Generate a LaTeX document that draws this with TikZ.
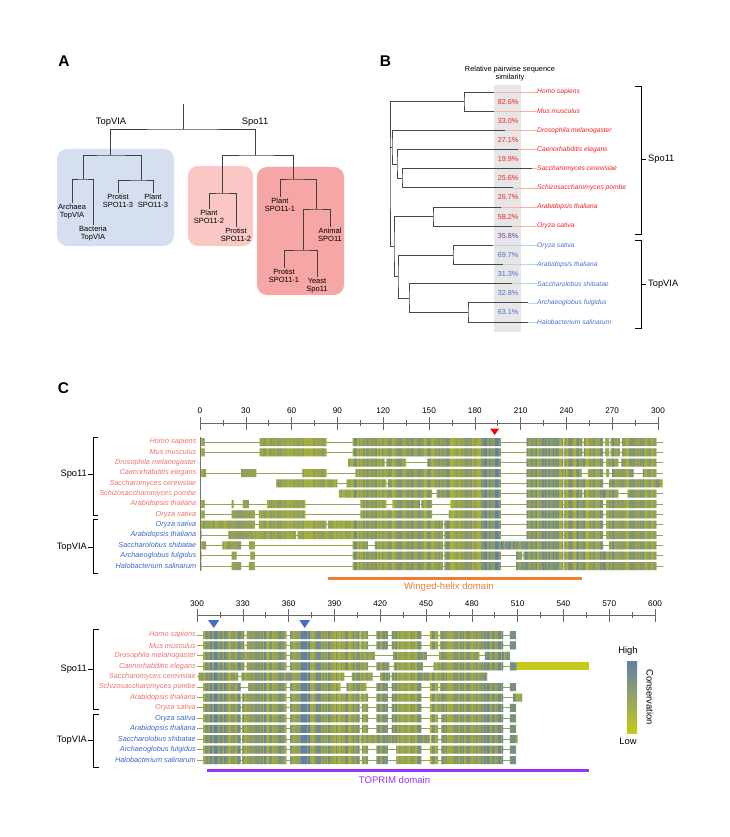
\documentclass[tikz,border=0pt]{standalone}
\usepackage{fontspec}
\setmainfont{Liberation Sans}
\usetikzlibrary{positioning}

\definecolor{boxblue}{RGB}{214,223,240}
\definecolor{boxpink}{RGB}{250,199,196}
\definecolor{boxred}{RGB}{247,166,166}
\definecolor{colgray}{RGB}{230,230,230}
\definecolor{bred}{RGB}{250,30,30}
\definecolor{bblue}{RGB}{72,112,210}
\definecolor{bpurple}{RGB}{120,60,170}
\definecolor{cred}{RGB}{242,110,110}
\definecolor{cblue}{RGB}{60,100,205}
\definecolor{alnlow}{RGB}{172,178,50}
\definecolor{alnhigh}{RGB}{96,128,170}
\definecolor{alnyel}{RGB}{198,200,28}
\definecolor{gapcol}{RGB}{150,165,85}
\definecolor{whorange}{RGB}{240,125,50}
\definecolor{tppurple}{RGB}{155,50,250}
\definecolor{tricol}{RGB}{70,110,200}

% alignment blocks: row y / line start / line end / {block start/end,...}
\newcommand\toprows{%
442/0/303/{0/3,39/83,100/197,214/238,238.5/250.5,251.5/264,265.5/268,269/275,276.5/299},%
452.33/0/303/{0/3,39/83,100/197,214/238,238.5/250.5,251.5/264,265.5/268,269/275,276.5/299},%
462.67/97/303/{97/121,122/135,149/197,214/238,238.5/264,266/274,276/299},%
473/0/303/{0/4,27/37,67/83,102/197,214/250,254/264,266/268,270/284,290/299},%
483.33/50/303/{50/90,96/122,123/197,214/238,238.5/264,268/303},%
493.67/91/303/{91/152,155/197,214/238,238.5/250.5,251.5/274,280/299},%
504/0/303/{0/3,20.7/22,28/32,44/69,105/122,126/144,145/152,164/197,214/238,238.5/264,266/299},%
514.33/0/303/{0/3,20.7/36,38.5/69,105/152,163/197,214/238,238.5/264,266/299},%
524.67/0/303/{0.8/36,38.5/83,84/159,160/197,214/238,238.5/264,266/299},%
535/0/303/{0/1,18.6/63,64/159,160/197,214/238,238.5/264,266/299},%
545.33/0/303/{0/4,14.6/27,32/36,100/110,114.5/159,160/238,238.5/264,268/299},%
555.67/0/303/{0/1,20.7/24,33/36,100/159,160/197,207/211,212/238,238.5/299},%
566/0/303/{0/1,20.7/27,32/36,100/159,160/197,207/238,238.5/299}}
\newcommand\botrows{%
635/300/509/{304/331,332.5/358.5,361/406.5,407/412,417.5/425,427.5/447,452.5/458,459/500.5,505/509},%
645.42/300/509/{304/331,332.5/358.5,361/406.5,407/412,417.5/425,427.5/447,452.5/458,459/500.5,505/509},%
655.83/300/505/{304/358.5,361/416.5,428.5/450.5,458.5/485,488.5/505},%
666.25/300/509/{304/331,332.5/358.5,361/412,417.5/426,429/448,455/500.5,505/509.5},%
676.67/300/490/{301/327,329/396.5,401.5/415,420/426.5,427.5/490},%
687.08/300/509/{304/328.5,333.5/358.5,361/394,398/411,417.5/425,427.5/447,452.5/458,459/500.5,505/509},%
697.5/300/513/{304/328.5,329.5/358.5,361/406.5,407/412,417.5/425,427.5/447,452.5/500.5,507/513},%
707.92/300/509/{304/328.5,329.5/358.5,361/406.5,408/412,417.5/425,427.5/447,452.5/500.5,505/509},%
718.33/300/509/{304/328.5,329.5/358.5,361/406.5,408/412,417.5/425,427.5/447,452.5/458,460/500.5,505/509},%
728.75/300/509/{304/328.5,329.5/358.5,361/406.5,408/412,417.5/425,427.5/447,452.5/458,460/500.5,505/509},%
739.17/300/510/{304/328.5,329.5/358.5,361/406.5,407/452.5,453/458,460/500.5,505/510},%
749.58/300/509/{304/328.5,329.5/358.5,361/406.5,408/412,417.5/425,430.5/447,452.5/458,460/500.5,505/509},%
760/300/509/{304/328.5,329.5/358.5,361/406.5,408/412,417.5/425,430.5/447,452.5/458,460/500.5,505/509}}

\begin{document}
\begin{tikzpicture}[x=1pt, y=-1pt,
  panel/.style={font=\fontsize{15.5}{16}\bfseries\selectfont, inner sep=0pt},
  treeA/.style={draw=black!75, line width=0.6pt},
  leafA/.style={font=\fontsize{7.5}{8.2}\selectfont, align=center, inner sep=1pt, anchor=north},
  hdrA/.style={font=\fontsize{9.4}{10}\selectfont, inner sep=0pt},
  treeB/.style={draw=black!72, line width=0.7pt},
  spB/.style={font=\fontsize{6.7}{7}\itshape, anchor=west, inner sep=0pt},
  pct/.style={font=\fontsize{7.2}{8}\selectfont, inner sep=0pt},
  brk/.style={draw=black, line width=0.7pt},
  brkl/.style={font=\fontsize{9.3}{10}\selectfont, inner sep=0pt},
  rowlbl/.style={font=\fontsize{7.3}{8}\itshape, anchor=east, inner sep=0pt},
  rul/.style={draw=black!60, line width=0.6pt},
  num/.style={font=\fontsize{8.2}{9}\selectfont, inner sep=0pt},
  gapln/.style={draw=gapcol, line width=0.9pt},
  lgd/.style={font=\fontsize{9.4}{10}\selectfont, inner sep=0pt}]
\useasboundingbox (0,0) rectangle (730,837);

%%% panel A
\node[panel] (labA) at (64,61.5) {A};
\fill[boxblue, rounded corners=10pt] (57,149) rectangle (174,246);
\fill[boxpink, rounded corners=10pt] (188,166) rectangle (253,246);
\fill[boxred, rounded corners=10pt] (257,167) rectangle (344,295);

\node[hdrA] (hTopA) at (111,122) {TopVIA};
\node[hdrA] (hSpoA) at (255,122) {Spo11};
\coordinate (rA) at (183,104);
\coordinate (jA) at (183,129);
\coordinate (tvA) at (110,155);
\coordinate (spA) at (255,155);
\draw[treeA] (rA) -- (jA);
\draw[treeA] (tvA) |- (jA) -| (spA);

\coordinate (abA) at (83,179);
\coordinate (p3A) at (141,180);
\draw[treeA] (abA) |- (tvA) -| (p3A);
\node[leafA] (archA) at (72,203) {Archaea\\TopVIA};
\node[leafA] (bactA) at (93,225) {Bacteria\\TopVIA};
\draw[treeA] (archA) |- (abA) -| (bactA);
\node[leafA] (prot3A) at (118,193) {Protist\\SPO11-3};
\node[leafA] (plant3A) at (153,193) {Plant\\SPO11-3};
\draw[treeA] (prot3A) |- (p3A) -| (plant3A);

\coordinate (s2A) at (222,193);
\coordinate (s1A) at (293,179);
\draw[treeA] (s2A) |- (spA) -| (s1A);
\node[leafA] (plant2A) at (209,209) {Plant\\SPO11-2};
\node[leafA] (prot2A) at (236,227) {Protist\\SPO11-2};
\draw[treeA] (plant2A) |- (s2A) -| (prot2A);
\node[leafA] (plant1A) at (280,197) {Plant\\SPO11-1};
\coordinate (s1bA) at (316,209);
\draw[treeA] (plant1A) |- (s1A) -| (s1bA);
\coordinate (s1cA) at (303,250);
\node[leafA] (animA) at (330,227) {Animal\\SPO11};
\draw[treeA] (s1cA) |- (s1bA) -| (animA);
\node[leafA] (prot1A) at (284,268) {Protist\\SPO11-1};
\node[leafA] (yeastA) at (317,277) {Yeast\\Spo11};
\draw[treeA] (prot1A) |- (s1cA) -| (yeastA);

%%% panel B
\node[panel] (labB) at (385.5,61.5) {B};
\fill[colgray] (494,85) rectangle (521,332);
\node[font=\fontsize{7.4}{8}\selectfont, align=center, inner sep=0pt] (hdrB) at (510,74) {Relative pairwise sequence\\similarity};

\foreach \nm/\yy/\tip [count=\i] in {Homo sapiens/92/494, Mus musculus/111.2/494,
  Drosophila melanogaster/130.3/505, Caenorhabditis elegans/149.5/518,
  Saccharomyces cerevisiae/168.7/532, Schizosaccharomyces pombe/187.8/513,
  Arabidopsis thaliana/207/501, Oryza sativa/226.2/512, Oryza sativa/245.3/493,
  Arabidopsis thaliana/264.5/503, Saccharolobus shibatae/283.7/512,
  Archaeoglobus fulgidus/302.8/528, Halobacterium salinarum/322/528}
{
  \ifnum\i<9 \def\cl{bred}\else\def\cl{bblue}\fi
  \node[spB, text=\cl] (b\i) at (537,\yy) {\nm};
  \coordinate (t\i) at (\tip,\yy);
  \draw[\cl!35, line width=0.5pt] (t\i) -- (b\i.west);
}

\coordinate (hmB) at (464,101.6);
\coordinate (sB) at (402,178.25);
\coordinate (cB) at (397,163.9);
\coordinate (dB) at (392,147.1);
\coordinate (plB) at (433,216.6);
\coordinate (taB) at (453,254.9);
\coordinate (ahB) at (468,312.4);
\coordinate (saB) at (409,298);
\coordinate (tvB) at (398,276.5);
\coordinate (ptB) at (394,246.5);
\coordinate (rootB) at (390,174);
\draw[treeB] (t1) -| (hmB) |- (t2);
\draw[treeB] (t5) -| (sB) |- (t6);
\draw[treeB] (t4) -| (cB) |- (sB);
\draw[treeB] (t3) -| (dB) |- (cB);
\draw[treeB] (t7) -| (plB) |- (t8);
\draw[treeB] (t9) -| (taB) |- (t10);
\draw[treeB] (t12) -| (ahB) |- (t13);
\draw[treeB] (t11) -| (saB) |- (ahB);
\draw[treeB] (taB) -| (tvB) |- (saB);
\draw[treeB] (plB) -| (ptB) |- (tvB);
\draw[treeB] (hmB) -| (rootB) |- (ptB);
\draw[treeB] (dB) -- (dB -| rootB);

\foreach \v/\yy/\cl [count=\i] in {82.6/101.6/bred, 33.0/120.75/bred, 27.1/139.9/bred,
  19.9/159.1/bred, 25.6/178.25/bred, 26.7/197.4/bred, 58.2/216.6/bred,
  35.8/235.75/bpurple, 69.7/254.9/bblue, 31.3/274.1/bblue, 32.8/293.25/bblue, 63.1/312.4/bblue}
  \node[pct, text=\cl] (pc\i) at (508,\yy) {\v\%};

\draw[brk] (635,86) -- (641,86) -- (641,234) -- (635,234);
\draw[brk] (641,159) -- (646,159);
\node[brkl, anchor=west] (spoB) at (648,159) {Spo11};
\draw[brk] (635,240) -- (641,240) -- (641,328) -- (635,328);
\draw[brk] (641,284) -- (646,284);
\node[brkl, anchor=west] (topB) at (648,284) {TopVIA};

%%% panel C
\node[panel] (labC) at (63.5,388.5) {C};

% residues 0-300
\begin{scope}[xshift=200pt, x=1.5267pt]
  \draw[rul] (0,423) -- (300,423);
  \foreach \u in {0,30,...,300} {
    \draw[rul] (\u,417) -- (\u,430);
    \node[num] (nt\u) at (\u,411) {\u};
  }
  \foreach \u in {15,45,...,285} \draw[rul] (\u,420) -- (\u,426);
  \foreach \yy/\la/\lb/\bl in \toprows \draw[gapln] (\la,\yy) -- (\lb,\yy);
  \begin{scope}
    \clip \foreach \yy/\la/\lb/\bl in \toprows {\foreach \a/\b in \bl {(\a,\yy-4) rectangle (\b,\yy+4)}};
    \fill[alnlow] (-1,430) rectangle (306,575);
    \pgfmathsetseed{3}
    \foreach \u in {0,...,304} {
      \pgfmathsetmacro\w{\u<100 ? 0.45 : (\u<186 ? 0.7 : (\u<198 ? 1.5 : 0.85))}
      \pgfmathsetmacro\op{min(1,\w*rnd)}
      \fill[alnhigh, fill opacity=\op] (\u,436) rectangle (\u+1,572);
    }
  \end{scope}
  \fill[red] (190,428.5) -- (196,428.5) -- (193,435) -- cycle;
  \draw[whorange, line width=3pt] (84,578) -- (250,578);
\end{scope}
\node[font=\fontsize{9.6}{10}\selectfont, text=whorange, inner sep=0pt] (whC) at (449,587.5) {Winged-helix domain};
\draw[black!55, line width=0.6pt] (200,437) -- (200,571);

\foreach \nm [count=\i] in {Homo sapiens, Mus musculus, Drosophila melanogaster,
  Caenorhabditis elegans, Saccharomyces cerevisiae, Schizosaccharomyces pombe,
  Arabidopsis thaliana, Oryza sativa, Oryza sativa, Arabidopsis thaliana,
  Saccharolobus shibatae, Archaeoglobus fulgidus, Halobacterium salinarum}
{
  \ifnum\i<9 \def\cl{cred}\else\def\cl{cblue}\fi
  \pgfmathsetmacro\yt{442+(\i-1)*10.333}
  \pgfmathsetmacro\yb{635+(\i-1)*10.417}
  \node[rowlbl, text=\cl] (rT\i) at (196.5,\yt) {\nm};
  \node[rowlbl, text=\cl] (rB\i) at (196,\yb) {\nm};
}

\draw[brk] (98,437) -- (93,437) -- (93,515) -- (98,515);
\draw[brk] (93,474) -- (88,474);
\node[brkl, anchor=east] (spoT) at (87,474) {Spo11};
\draw[brk] (98,519) -- (93,519) -- (93,573) -- (98,573);
\draw[brk] (93,547) -- (88,547);
\node[brkl, anchor=east] (topT) at (87,547) {TopVIA};

% residues 300-600
\begin{scope}[xshift=-261pt, x=1.5267pt]
  \draw[rul] (300,615) -- (600,615);
  \foreach \u in {300,330,...,600} {
    \draw[rul] (\u,609) -- (\u,622);
    \node[num] (nb\u) at (\u,604) {\u};
  }
  \foreach \u in {315,345,...,585} \draw[rul] (\u,612) -- (\u,618);
  \foreach \yy/\la/\lb/\bl in \botrows \draw[gapln] (\la,\yy) -- (\lb,\yy);
  \begin{scope}
    \clip \foreach \yy/\la/\lb/\bl in \botrows {\foreach \a/\b in \bl {(\a,\yy-4) rectangle (\b,\yy+4)}};
    \fill[alnlow] (299,625) rectangle (515,767);
    \pgfmathsetseed{8}
    \foreach \u in {300,...,514} {
      \pgfmathsetmacro\w{(\u>306 && \u<314) || (\u>366 && \u<374) ? 1.6 : 0.85}
      \pgfmathsetmacro\op{min(1,\w*rnd)}
      \fill[alnhigh, fill opacity=\op] (\u,629) rectangle (\u+1,766);
    }
  \end{scope}
  \fill[alnyel] (509.5,662.25) rectangle (556.5,670.25);
  \fill[tricol] (307.2,620) -- (314.6,620) -- (311,628) -- cycle;
  \fill[tricol] (367,620) -- (374.1,620) -- (370.5,628) -- cycle;
  \draw[tppurple, line width=3pt] (306.5,770) -- (556.7,770);
\end{scope}
\node[font=\fontsize{9.6}{10}\selectfont, text=tppurple, inner sep=0pt] (tpC) at (394.5,780.5) {TOPRIM domain};

\draw[brk] (99,629) -- (93,629) -- (93,709) -- (99,709);
\draw[brk] (93,669) -- (88,669);
\node[brkl, anchor=east] (spoBt) at (87,669) {Spo11};
\draw[brk] (99,714) -- (93,714) -- (93,767) -- (99,767);
\draw[brk] (93,740) -- (88,740);
\node[brkl, anchor=east] (topBt) at (87,740) {TopVIA};

% legend
\shade[top color=alnhigh, bottom color=alnyel] (627,661) rectangle (637,733);
\node[lgd] (hiL) at (628,651) {High};
\node[lgd] (loL) at (628,741.5) {Low};
\node[lgd, rotate=-90] (conL) at (650,697) {Conservation};
\end{tikzpicture}
\end{document}
